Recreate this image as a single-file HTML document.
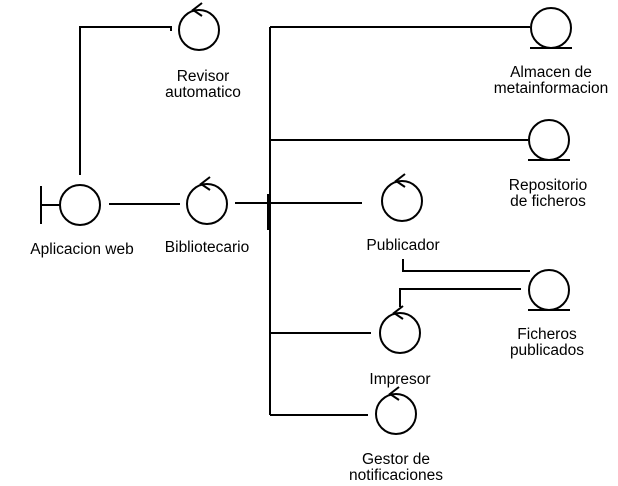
<!DOCTYPE html>
<html><head><meta charset="utf-8"><style>
html,body{margin:0;padding:0;background:#fff;width:618px;height:486px;overflow:hidden}
svg{display:block}
text{font-family:"Liberation Sans",sans-serif;font-size:15.5px;fill:#000;text-anchor:middle}
</style></head><body>
<svg width="618" height="486" viewBox="0 0 618 486" xmlns="http://www.w3.org/2000/svg">
<defs>
<g id="ctl"><circle cx="0" cy="0" r="20" fill="none" stroke="#000" stroke-width="2"/><path d="M3,-27 L-6,-20 L3,-14" fill="none" stroke="#000" stroke-width="2"/></g>
<g id="ent"><circle cx="0" cy="0" r="20" fill="none" stroke="#000" stroke-width="2"/><line x1="-21" y1="20" x2="21" y2="20" stroke="#000" stroke-width="2"/></g>
</defs>
<g stroke="#000" stroke-width="2" fill="none">
<polyline points="80,175 80,27 171,27 171,31"/>
<line x1="41" y1="186" x2="41" y2="224"/>
<line x1="41" y1="205" x2="60" y2="205"/>
<line x1="109" y1="204" x2="180" y2="204"/>
<line x1="235" y1="203" x2="362" y2="203"/>
<line x1="270" y1="27" x2="270" y2="415"/>
<line x1="268" y1="194" x2="268" y2="230"/>
<line x1="270" y1="27" x2="530" y2="27"/>
<line x1="270" y1="140" x2="528" y2="140"/>
<line x1="270" y1="333" x2="371" y2="333"/>
<line x1="270" y1="415" x2="368" y2="415"/>
<polyline points="403,259 403,271 530,271"/>
<polyline points="400,307 400,289 521,289"/>
</g>
<circle cx="80" cy="205" r="20" fill="none" stroke="#000" stroke-width="2"/>
<use href="#ctl" x="199" y="30"/>
<use href="#ctl" x="207" y="204"/>
<use href="#ctl" x="402" y="201"/>
<use href="#ctl" x="400" y="333"/>
<use href="#ctl" x="396" y="414"/>
<use href="#ent" x="551" y="28"/>
<use href="#ent" x="549" y="140"/>
<use href="#ent" x="549" y="290"/>
<text x="203" y="81">Revisor</text><text x="203" y="97">automatico</text>
<text x="82" y="254">Aplicacion web</text>
<text x="207" y="252">Bibliotecario</text>
<text x="551" y="77">Almacen de</text><text x="551" y="93">metainformacion</text>
<text x="548" y="190">Repositorio</text><text x="548" y="206">de ficheros</text>
<text x="403" y="250">Publicador</text>
<text x="547" y="339">Ficheros</text><text x="547" y="355">publicados</text>
<text x="400" y="384">Impresor</text>
<text x="396" y="464">Gestor de</text><text x="396" y="480">notificaciones</text>
</svg>
</body></html>
